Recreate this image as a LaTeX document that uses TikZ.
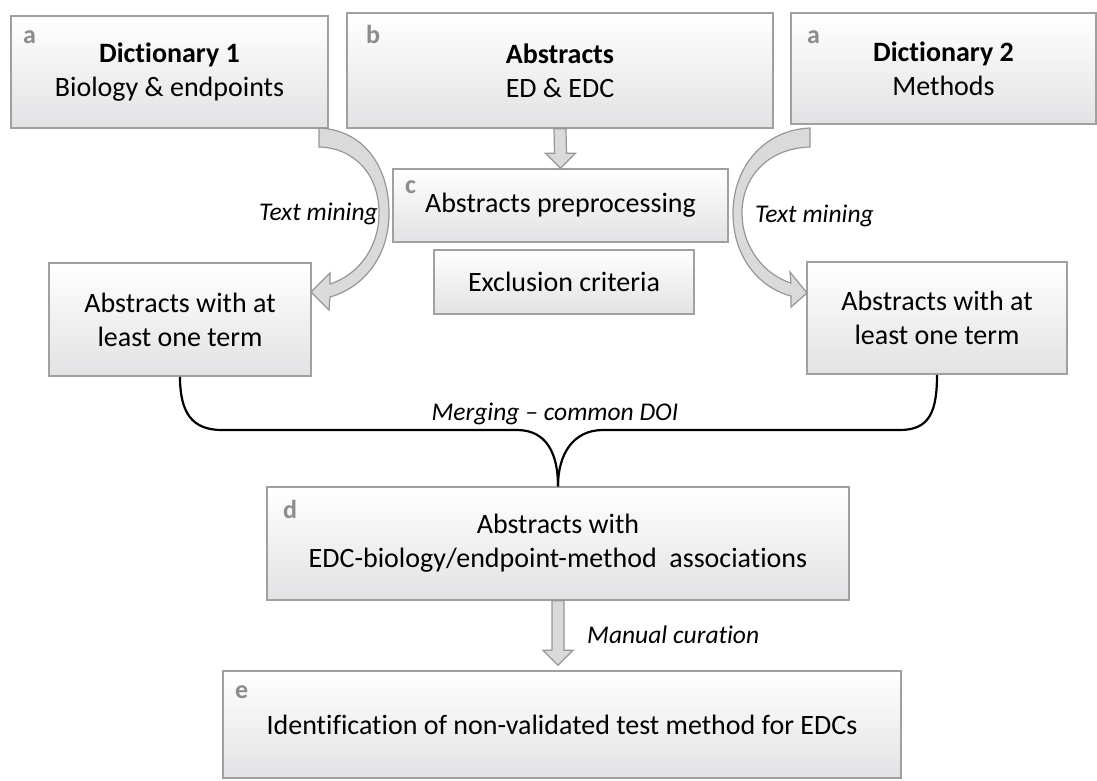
\documentclass[tikz,border=0pt]{standalone}
\usepackage{fontspec}
\setmainfont[Ligatures={TeX,NoCommon}]{Carlito}
\usetikzlibrary{positioning,calc}

\definecolor{boxline}{RGB}{160,160,160}
\definecolor{boxbot}{RGB}{226,226,228}
\definecolor{taggray}{RGB}{140,140,140}
\definecolor{arrowfill}{RGB}{218,218,218}
\definecolor{arrowline}{RGB}{150,150,150}

\tikzset{
  box/.style={draw=boxline, line width=1.5pt, top color=white, bottom color=boxbot,
    align=center, inner sep=0pt, font=\fontsize{28}{34}\selectfont},
  tag/.style={anchor=base west, inner sep=0pt, text=taggray, font=\bfseries\fontsize{26}{26}\selectfont},
  note/.style={inner sep=0pt, font=\itshape\fontsize{25.5}{30}\selectfont},
  blockarrow/.style={draw=arrowline, fill=arrowfill, line width=1.2pt, line join=miter},
  merge/.style={draw=black, line width=2.2pt}
}

% straight block arrow, shaft from #1 down to the tip #2
\newcommand{\downblock}[2]{%
  \draw[blockarrow] ($#1+(-6,0)$) -- ($#2+(-6,-15)$) -- ($#2+(-15,-15)$) -- #2
    -- ($#2+(15,-15)$) -- ($#2+(6,-15)$) -- ($#1+(6,0)$) -- cycle;}

\begin{document}
\begin{tikzpicture}[x=1pt,y=-1pt]
\useasboundingbox (0,0) rectangle (1097,780);

% sources
\node[box, minimum width=317, minimum height=112] (dict1) at (169.5,72) {\textbf{Dictionary 1}\\Biology \& endpoints};
\node[box, minimum width=426, minimum height=115] (abs) at (560,70.5) {\textbf{Abstracts}\\ED \& EDC};
\node[box, minimum width=305, minimum height=111] (dict2) at (943.5,68.5) {\textbf{Dictionary 2}\\Methods};

% preprocessing
\node[box, minimum width=335, minimum height=73] (prep) at (560.5,205.5) {Abstracts preprocessing};
\node[box, minimum width=260, minimum height=64] (excl) at (564,282) {Exclusion criteria};

% hits
\node[box, minimum width=262, minimum height=113] (hitsL) at (180,319.5) {Abstracts with at\\least one term};
\node[box, minimum width=260, minimum height=112] (hitsR) at (937,318) {Abstracts with at\\least one term};

% results
\node[box, minimum width=582, minimum height=113] (assoc) at (558,543.5) {Abstracts with\\EDC-biology/endpoint-method\ \ associations};
\node[box, minimum width=678, minimum height=107] (ident) at (562,724.5) {Identification of non-validated test method for EDCs};

% panel letters
\node[tag] (tagA1) at (23,43) {a};
\node[tag] (tagB) at (366,43) {b};
\node[tag] (tagA2) at (807,43) {a};
\node[tag] (tagC) at (405,193) {c};
\node[tag] (tagD) at (283,518) {d};
\node[tag] (tagE) at (235,698) {e};

% text mining arrows
\draw[blockarrow] (319,128) .. controls (365,130) and (389,168) .. (389,213)
  .. controls (389,258) and (362,288) .. (330,297)
  -- (329,310) -- (311,292) -- (330,273) -- (330,284)
  .. controls (358,275) and (379,248) .. (379,213)
  .. controls (379,175) and (355,148) .. (319,147) -- cycle;
\draw[blockarrow] (810,128) .. controls (763,130) and (733,168) .. (733,213)
  .. controls (733,258) and (760,288) .. (791,296)
  -- (791,307) -- (807,293) -- (790,272) -- (791,283)
  .. controls (765,275) and (742,248) .. (742,213)
  .. controls (742,175) and (770,148) .. (810,147) -- cycle;
\node[note, anchor=base east] (mineL) at (378,220) {Text mining};
\node[note, anchor=base west] (mineR) at (755,222) {Text mining};

\downblock{(abs.south)}{(prep.north)}

% merging
\coordinate (jl) at (222,430);
\coordinate (ml) at (517,430);
\coordinate (mr) at (603,430);
\coordinate (jr) at (900,430);
\draw[merge] (hitsL.south) .. controls +(0,36) and +(-30,0) .. (jl) -- (ml)
  .. controls +(30,0) and +(0,-32) .. (assoc.north);
\draw[merge] (assoc.north) .. controls +(0,-32) and +(-30,0) .. (mr) -- (jr)
  .. controls +(30,0) and +(0,36) .. (hitsR.south);
\node[note, anchor=base] (mergelbl) at (555,420) {Merging -- common DOI};

% curation
\coordinate (curtip) at ($(assoc.south |- ident.north)+(0,-5)$);
\downblock{(assoc.south)}{(curtip)}
\node[note, anchor=base west] (curlbl) at (587,643) {Manual curation};
\end{tikzpicture}
\end{document}
